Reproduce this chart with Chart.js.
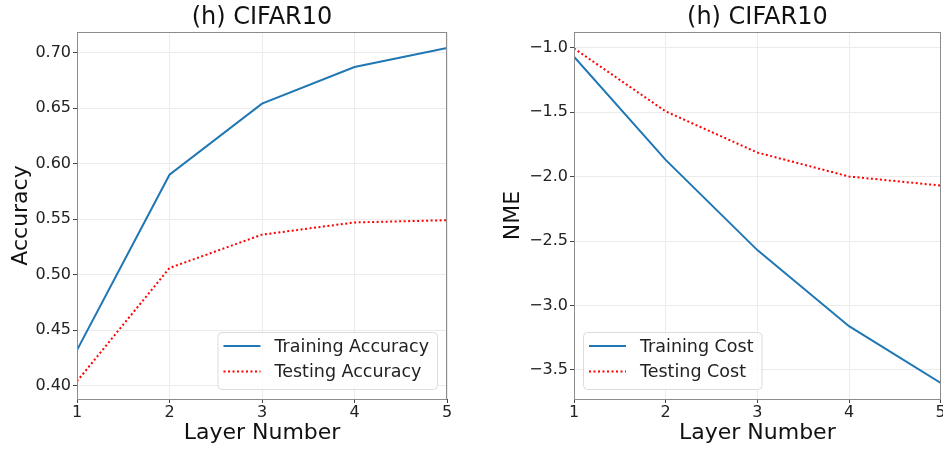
<!DOCTYPE html>
<html>
<head>
<meta charset="utf-8">
<script src="https://cdn.jsdelivr.net/npm/chart.js@4.4.0/dist/chart.umd.min.js"></script>
<style>
  html, body { margin: 0; padding: 0; background: #fff; overflow: hidden; }
  #accChart { position: absolute; left: 0; top: 0; }
  #nmeChart { position: absolute; left: 470px; top: 0; }
</style>
</head>
<body>
<canvas id="accChart" width="470" height="451"></canvas>
<canvas id="nmeChart" width="473" height="451"></canvas>
<script>
/* ---------- data ---------- */
const layers = [1, 2, 3, 4, 5];
const layerTicks = [1, 2, 3, 4, 5];

const trainAcc = [0.432, 0.590, 0.654, 0.687, 0.704];
const testAcc  = [0.404, 0.506, 0.536, 0.547, 0.549];
const accTicks = [0.40, 0.45, 0.50, 0.55, 0.60, 0.65, 0.70];
const accRange = [0.388, 0.7185];

const trainCost = [-1.07, -1.87, -2.57, -3.16, -3.60];
const testCost  = [-1.005, -1.494, -1.813, -1.999, -2.069];
const nmeTicks  = [-3.5, -3.0, -2.5, -2.0, -1.5, -1.0];
const nmeRange  = [-3.725, -0.878];

const BLUE = "#1f77b4";
const RED = "#ff0000";
const FONT = "'DejaVu Sans', sans-serif";

Chart.defaults.font.family = FONT;
Chart.defaults.color = "#222";

/* ---------- plugins ---------- */
// frame round the plot area + panel title
const panelFrame = {
  id: "panelFrame",
  afterDatasetsDraw(chart) {
    const { ctx, chartArea: a } = chart;
    ctx.save();
    ctx.strokeStyle = "#8c8c8c";
    ctx.lineWidth = 1;
    ctx.strokeRect(Math.round(a.left) + 0.5, Math.round(a.top) + 0.5,
                   Math.round(a.right - a.left) - 1, Math.round(a.bottom - a.top));
    ctx.restore();
  },
  afterDraw(chart, args, opts) {
    const { ctx, chartArea: a } = chart;
    ctx.save();
    ctx.font = `24px ${FONT}`;
    ctx.fillStyle = "#111";
    ctx.textAlign = "center";
    ctx.textBaseline = "middle";
    ctx.fillText(opts.text, (a.left + a.right) / 2, 18);
    ctx.restore();
  }
};

// legend box tucked into a lower corner of the plot
const cornerLegend = {
  id: "cornerLegend",
  afterDraw(chart, args, opts) {
    const { ctx, chartArea: a } = chart;
    const sets = chart.data.datasets;
    ctx.save();
    ctx.font = `17.5px ${FONT}`;
    const textW = Math.max(...sets.map(d => ctx.measureText(d.label).width));
    const w = 6 + 37 + 14 + textW + 8;
    const h = 57;
    const x = opts.side === "right" ? a.right - 10 - w : a.left + 9;
    const y = a.bottom - 10 - h;

    ctx.beginPath();
    ctx.roundRect(x + 0.5, y + 0.5, w, h, 4);
    ctx.fillStyle = "rgba(255,255,255,0.8)";
    ctx.fill();
    ctx.strokeStyle = "#dcdcdc";
    ctx.lineWidth = 1;
    ctx.stroke();

    sets.forEach((d, i) => {
      const ry = y + 14 + i * 25.5;
      ctx.beginPath();
      ctx.setLineDash(d.borderDash || []);
      ctx.strokeStyle = d.borderColor;
      ctx.lineWidth = d.borderWidth;
      ctx.moveTo(x + 6, ry);
      ctx.lineTo(x + 43, ry);
      ctx.stroke();
      ctx.setLineDash([]);
      ctx.fillStyle = "#222";
      ctx.textBaseline = "middle";
      ctx.fillText(d.label, x + 57, ry + 1);
    });
    ctx.restore();
  }
};

/* ---------- chart builder ---------- */
function minusSign(v, digits) {
  return v.toFixed(digits).replace("-", "\u2212");
}

function buildChart(id, p) {
  return new Chart(document.getElementById(id), {
    type: "line",
    data: {
      datasets: [
        {
          label: p.labels[0],
          data: layers.map((x, i) => ({ x, y: p.train[i] })),
          borderColor: BLUE,
          borderWidth: 2,
          pointRadius: 0,
          tension: 0
        },
        {
          label: p.labels[1],
          data: layers.map((x, i) => ({ x, y: p.test[i] })),
          borderColor: RED,
          borderWidth: 2,
          borderDash: [2, 2.5],
          pointRadius: 0,
          tension: 0
        }
      ]
    },
    options: {
      responsive: false,
      animation: false,
      layout: { padding: { top: 32, right: p.padRight, bottom: 0, left: 0 } },
      plugins: {
        legend: { display: false },
        tooltip: { enabled: false },
        panelFrame: { text: "(h) CIFAR10" },
        cornerLegend: { side: p.legendSide }
      },
      scales: {
        x: {
          type: "linear",
          min: layers[0],
          max: layers[layers.length - 1],
          afterBuildTicks: s => { s.ticks = layerTicks.map(v => ({ value: v })); },
          afterFit: s => { s.height = 52; s.paddingLeft = 0; s.paddingRight = 0; },
          ticks: { font: { size: 16 }, padding: 0, maxRotation: 0, callback: v => String(v) },
          grid: { color: "#ebebeb", tickColor: "#444", tickLength: 4 },
          border: { display: false },
          title: {
            display: true, text: "Layer Number", color: "#111",
            font: { size: 22 }, padding: { top: 0, bottom: 5 }
          }
        },
        y: {
          min: p.range[0],
          max: p.range[1],
          afterBuildTicks: s => { s.ticks = p.ticks.map(v => ({ value: v })); },
          afterFit: s => { s.width = p.yWidth; s.paddingTop = 0; s.paddingBottom = 0; },
          ticks: { font: { size: 16 }, padding: 2, callback: v => minusSign(v, p.digits) },
          grid: { color: "#ebebeb", tickColor: "#444", tickLength: 4 },
          border: { display: false },
          title: {
            display: true, text: p.yTitle, color: "#111",
            font: { size: 22 }, padding: { top: p.yTitlePad, bottom: 0 }
          }
        }
      }
    },
    plugins: [panelFrame, cornerLegend]
  });
}

buildChart("accChart", {
  train: trainAcc, test: testAcc,
  labels: ["Training Accuracy", "Testing Accuracy"],
  range: accRange, ticks: accTicks, digits: 2,
  yTitle: "Accuracy", yTitlePad: 8, yWidth: 77, padRight: 23,
  legendSide: "right"
});

buildChart("nmeChart", {
  train: trainCost, test: testCost,
  labels: ["Training Cost", "Testing Cost"],
  range: nmeRange, ticks: nmeTicks, digits: 1,
  yTitle: "NME", yTitlePad: 30.5, yWidth: 104, padRight: 2.3,
  legendSide: "left"
});
</script>
</body>
</html>
